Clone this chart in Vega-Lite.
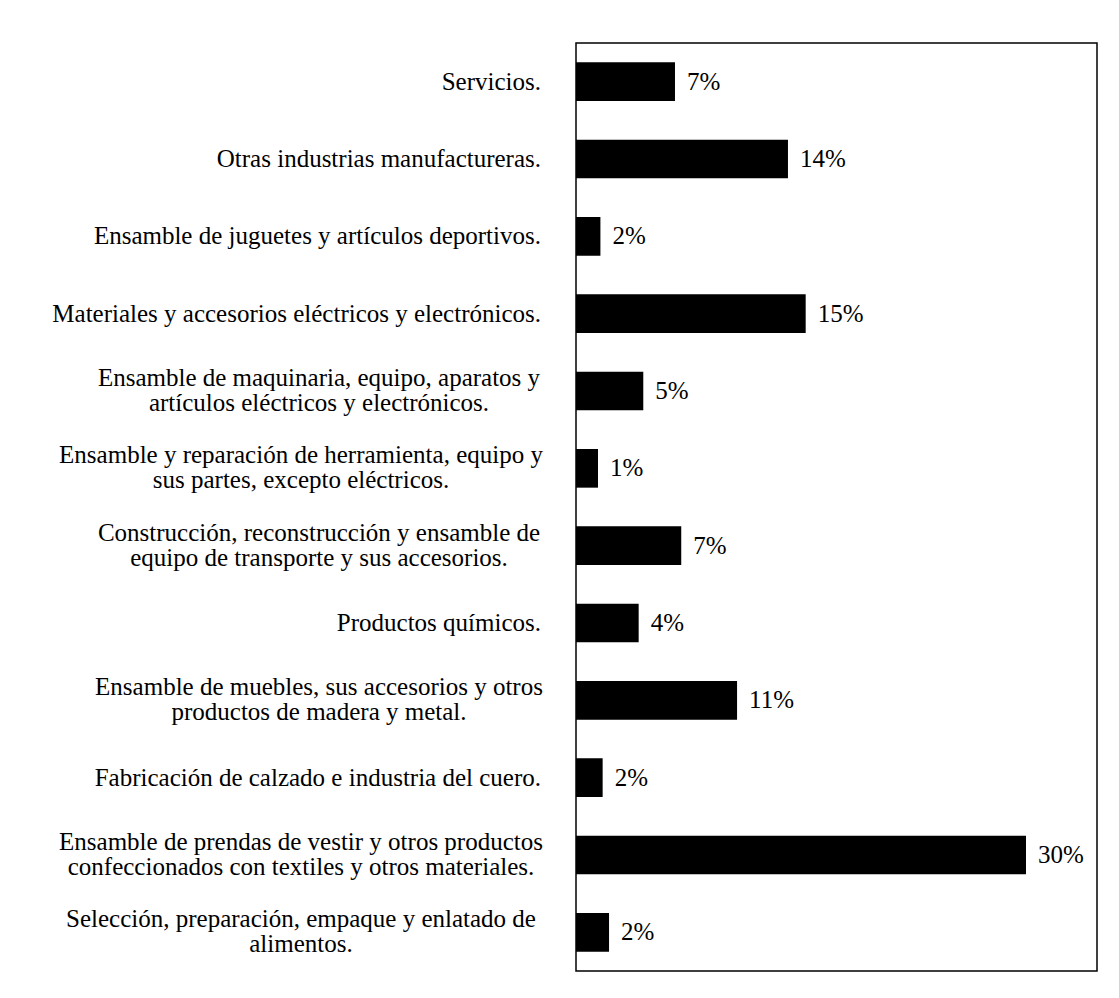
{
  "$schema": "https://vega.github.io/schema/vega-lite/v6.json",
  "width": 521,
  "height": 928,
  "autosize": "none",
  "padding": {"left": 576, "top": 43, "right": 22, "bottom": 27},
  "background": "white",
  "config": {
    "view": {"stroke": "black", "strokeWidth": 1.5},
    "font": "Liberation Serif"
  },
  "data": {
    "values": [
      {"sector": "Servicios.", "share": 0.0665},
      {"sector": "Otras industrias manufactureras.", "share": 0.1424},
      {"sector": "Ensamble de juguetes y artículos deportivos.", "share": 0.0164},
      {"sector": "Materiales y accesorios eléctricos y electrónicos.", "share": 0.1543},
      {"sector": "Ensamble de maquinaria, equipo, aparatos y\nartículos eléctricos y electrónicos.", "share": 0.0452},
      {"sector": "Ensamble y reparación de herramienta, equipo y\nsus partes, excepto eléctricos.", "share": 0.0148},
      {"sector": "Construcción, reconstrucción y ensamble de\nequipo de transporte y sus accesorios.", "share": 0.0707},
      {"sector": "Productos químicos.", "share": 0.0421},
      {"sector": "Ensamble de muebles, sus accesorios y otros\nproductos de madera y metal.", "share": 0.1082},
      {"sector": "Fabricación de calzado e industria del cuero.", "share": 0.0179},
      {"sector": "Ensamble de prendas de vestir y otros productos\nconfeccionados con textiles y otros materiales.", "share": 0.3023},
      {"sector": "Selección, preparación, empaque y enlatado de\nalimentos.", "share": 0.0222}
    ]
  },
  "encoding": {
    "y": {
      "field": "sector",
      "type": "nominal",
      "sort": null,
      "scale": {"paddingInner": 0.5, "paddingOuter": 0.25},
      "axis": null
    }
  },
  "layer": [
    {
      "mark": {"type": "bar", "color": "black"},
      "encoding": {
        "x": {"field": "share", "type": "quantitative", "scale": {"domain": [0, 0.35]}, "axis": null}
      }
    },
    {
      "mark": {"type": "text", "align": "left", "dx": 12, "baseline": "middle", "fontSize": 25, "font": "Liberation Serif", "color": "black"},
      "encoding": {
        "x": {"field": "share", "type": "quantitative"},
        "text": {"field": "share", "type": "quantitative", "format": ".0%"}
      }
    },
    {
      "transform": [{"filter": "indexof(datum.sector, '\\n') < 0"}],
      "mark": {"type": "text", "align": "right", "dx": -35, "baseline": "middle", "fontSize": 25, "font": "Liberation Serif", "color": "black"},
      "encoding": {
        "x": {"datum": 0},
        "text": {"field": "sector", "type": "nominal"}
      }
    },
    {
      "transform": [{"filter": "indexof(datum.sector, 'maquinaria') >= 0 || indexof(datum.sector, 'Construcci') >= 0 || indexof(datum.sector, 'muebles') >= 0"}],
      "mark": {"type": "text", "align": "center", "dx": -257, "baseline": "line-bottom", "lineBreak": "\n", "lineHeight": 25, "fontSize": 25, "font": "Liberation Serif", "color": "black"},
      "encoding": {
        "x": {"datum": 0},
        "text": {"field": "sector", "type": "nominal"}
      }
    },
    {
      "transform": [{"filter": "indexof(datum.sector, 'herramienta') >= 0 || indexof(datum.sector, 'prendas') >= 0 || indexof(datum.sector, 'Selecci') >= 0"}],
      "mark": {"type": "text", "align": "center", "dx": -275, "baseline": "line-bottom", "lineBreak": "\n", "lineHeight": 25, "fontSize": 25, "font": "Liberation Serif", "color": "black"},
      "encoding": {
        "x": {"datum": 0},
        "text": {"field": "sector", "type": "nominal"}
      }
    }
  ]
}
